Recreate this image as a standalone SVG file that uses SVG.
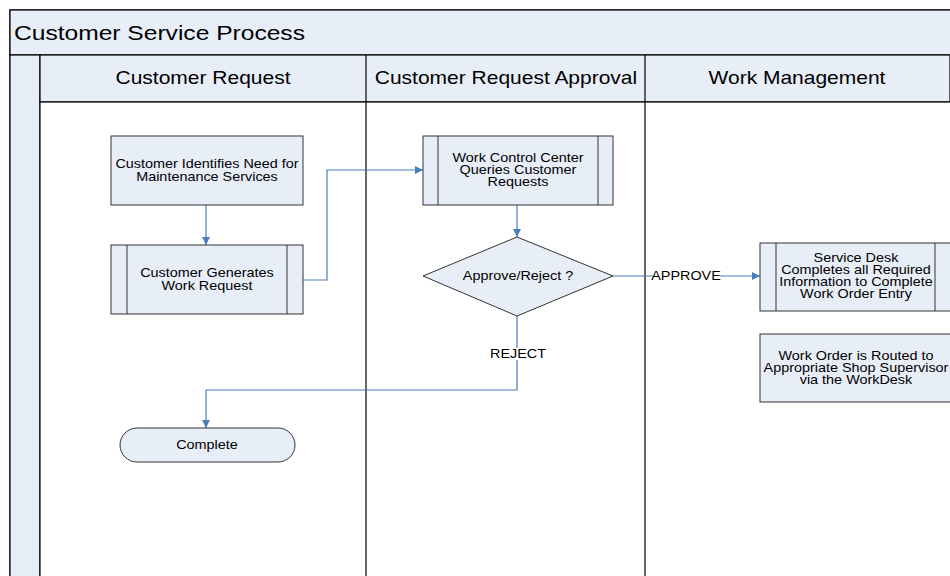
<svg xmlns="http://www.w3.org/2000/svg" width="950" height="576" viewBox="0 0 950 576">
<defs>
<style>
.band{fill:#e8eef8;stroke:#000;stroke-width:1.2}
.lane{fill:#fff;stroke:#000;stroke-width:1.2}
.node{fill:#e8eef8;stroke:#333;stroke-width:1}
.t{font-family:"Liberation Sans",Arial,sans-serif;font-size:12px;fill:#000;text-anchor:middle}
.h{font-family:"Liberation Sans",Arial,sans-serif;font-size:17.5px;fill:#000;text-anchor:middle}
.c{fill:none;stroke:#4a7ebb;stroke-width:1.2}
</style>
<marker id="arr" viewBox="0 0 10 10" refX="10" refY="5" markerWidth="8" markerHeight="8" markerUnits="userSpaceOnUse" orient="auto">
<path d="M0,0 L10,5 L0,10 z" fill="#4a7ebb"/>
</marker>
</defs>
<rect width="950" height="576" fill="#fff"/>
<g id="pool">
<rect class="band" x="10" y="10" width="950" height="580"/>
<rect class="band" x="10" y="10" width="950" height="45"/>
<text transform="scale(1.2,1)" x="11.67" y="40" font-family="Liberation Sans,Arial,sans-serif" font-size="20.5" fill="#000">Customer Service Process</text>
<rect class="band" x="10" y="55" width="30" height="535"/>
<rect class="band" x="40" y="55" width="910" height="47"/>
<rect class="lane" x="40" y="102" width="920" height="490"/>
<line x1="366" y1="55" x2="366" y2="576" stroke="#000" stroke-width="1.2"/>
<line x1="645" y1="55" x2="645" y2="576" stroke="#000" stroke-width="1.2"/>
<text class="h" transform="scale(1.2,1)" x="169.17" y="84">Customer Request</text>
<text class="h" transform="scale(1.2,1)" x="421.67" y="84">Customer Request Approval</text>
<text class="h" transform="scale(1.2,1)" x="664.17" y="84">Work Management</text>
</g>
<g id="connectors">
<line class="c" x1="206" y1="205" x2="206" y2="245" marker-end="url(#arr)"/>
<polyline class="c" points="303,280 327,280 327,170 423,170" marker-end="url(#arr)"/>
<line class="c" x1="517" y1="205" x2="517" y2="237" marker-end="url(#arr)"/>
<line class="c" x1="613" y1="276" x2="760" y2="276" marker-end="url(#arr)"/>
<rect x="653" y="270" width="67" height="12" fill="#fff"/>
<text class="t" transform="scale(1.2,1)" x="571.67" y="280">APPROVE</text>
<polyline class="c" points="517,316 517,390 206,390 206,428" marker-end="url(#arr)"/>
<rect x="491" y="348" width="54" height="12" fill="#fff"/>
<text class="t" transform="scale(1.2,1)" x="431.67" y="358">REJECT</text>
</g>
<g id="n1">
<rect class="node" x="111" y="136" width="192" height="69"/>
<text class="t" transform="scale(1.2,1)" x="172.5" y="168">Customer Identifies Need for</text>
<text class="t" transform="scale(1.2,1)" x="172.5" y="181">Maintenance Services</text>
</g>
<g id="n2">
<rect class="node" x="111" y="245" width="192" height="69"/>
<line x1="127" y1="245" x2="127" y2="314" stroke="#333"/>
<line x1="287" y1="245" x2="287" y2="314" stroke="#333"/>
<text class="t" transform="scale(1.2,1)" x="172.5" y="277">Customer Generates</text>
<text class="t" transform="scale(1.2,1)" x="172.5" y="290">Work Request</text>
</g>
<g id="n3">
<rect class="node" x="423" y="136" width="190" height="69"/>
<line x1="438" y1="136" x2="438" y2="205" stroke="#333"/>
<line x1="598" y1="136" x2="598" y2="205" stroke="#333"/>
<text class="t" transform="scale(1.2,1)" x="431.67" y="162">Work Control Center</text>
<text class="t" transform="scale(1.2,1)" x="431.67" y="174">Queries Customer</text>
<text class="t" transform="scale(1.2,1)" x="431.67" y="186">Requests</text>
</g>
<g id="n4">
<polygon class="node" points="517,237 613,276 517,316 423,276"/>
<text class="t" transform="scale(1.2,1)" x="431.67" y="280">Approve/Reject ?</text>
</g>
<g id="n5">
<rect class="node" x="760" y="243" width="192" height="68"/>
<line x1="776" y1="243" x2="776" y2="311" stroke="#333"/>
<line x1="935" y1="243" x2="935" y2="311" stroke="#333"/>
<text class="t" transform="scale(1.2,1)" x="713.33" y="262">Service Desk</text>
<text class="t" transform="scale(1.2,1)" x="713.33" y="274">Completes all Required</text>
<text class="t" transform="scale(1.2,1)" x="713.33" y="286">Information to Complete</text>
<text class="t" transform="scale(1.2,1)" x="713.33" y="298">Work Order Entry</text>
</g>
<g id="n6">
<rect class="node" x="760" y="334" width="192" height="68"/>
<text class="t" transform="scale(1.2,1)" x="713.33" y="360">Work Order is Routed to</text>
<text class="t" transform="scale(1.2,1)" x="713.33" y="372">Appropriate Shop Supervisor</text>
<text class="t" transform="scale(1.2,1)" x="713.33" y="384">via the WorkDesk</text>
</g>
<g id="n7">
<rect class="node" x="120" y="428" width="175" height="34" rx="17" ry="17"/>
<text class="t" transform="scale(1.2,1)" x="172.5" y="449">Complete</text>
</g>
</svg>
